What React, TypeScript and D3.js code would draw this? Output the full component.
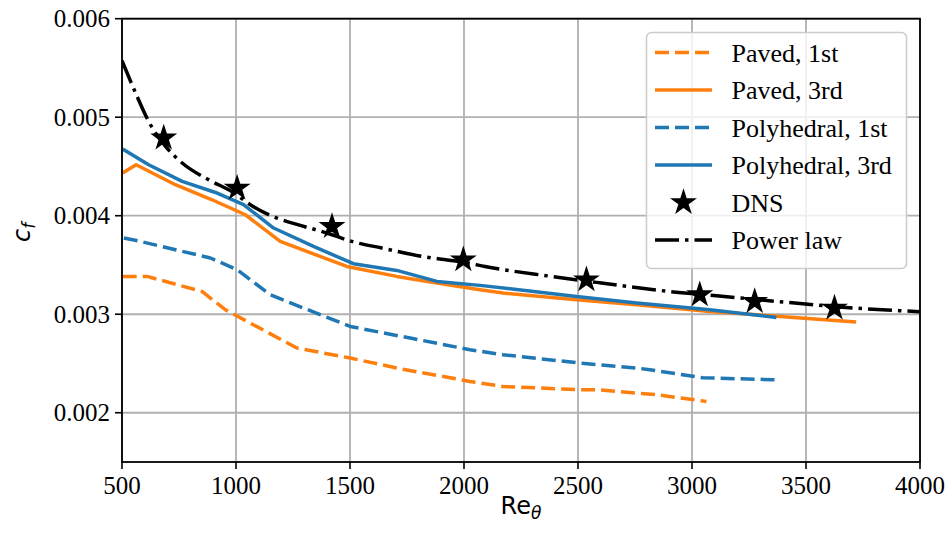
import React from 'react';
import * as d3 from 'd3';

// ---- data (Re_theta, c_f) ----
const pavedFirst: [number, number][] = [
  [503, 0.003384], [610, 0.003384], [851, 0.003231], [953, 0.003046], [1267, 0.002657],
  [1501, 0.002555], [1720, 0.002447], [2026, 0.002318], [2171, 0.002267], [2508, 0.002234],
  [2583, 0.002234], [2844, 0.002183], [3063, 0.002115],
];
const pavedThird: [number, number][] = [
  [503, 0.004434], [562, 0.004518], [734, 0.004315], [895, 0.004162], [1041, 0.00401],
  [1194, 0.003739], [1486, 0.003485], [1705, 0.003384], [1881, 0.003317], [2070, 0.003249],
  [2171, 0.003215], [2494, 0.003147], [2757, 0.003096], [3078, 0.003028], [3370, 0.00298],
  [3720, 0.002921],
];
const polyFirst: [number, number][] = [
  [508, 0.003774], [581, 0.003739], [888, 0.003571], [1005, 0.003452], [1150, 0.003198],
  [1296, 0.003063], [1501, 0.002876], [1764, 0.002758], [2026, 0.00264], [2171, 0.002589],
  [2508, 0.002505], [2757, 0.002454], [2815, 0.002437], [3047, 0.002355], [3362, 0.002335],
];
const polyThird: [number, number][] = [
  [503, 0.004677], [617, 0.004518], [764, 0.004348], [910, 0.004236], [1033, 0.004112],
  [1165, 0.003875], [1340, 0.003688], [1515, 0.003513], [1705, 0.003445], [1881, 0.003333],
  [2070, 0.003293], [2494, 0.003181], [2757, 0.003114], [3078, 0.003046], [3370, 0.002967],
];
const dnsPoints: [number, number][] = [
  [683, 0.004789], [1005, 0.004281], [1421, 0.003891], [1997, 0.003553],
  [2537, 0.00335], [3034, 0.003198], [3275, 0.00313], [3625, 0.003063],
];
const powerLaw: [number, number][] = [
  [500, 0.005574], [559, 0.005249], [617, 0.004957], [691, 0.004704], [764, 0.004535],
  [880, 0.004365], [983, 0.004244], [1063, 0.004112], [1421, 0.003807], [1508, 0.003739],
  [1640, 0.003672], [1815, 0.003587], [2019, 0.00352], [2092, 0.003485], [2384, 0.003384],
  [2603, 0.003317], [2902, 0.003231], [3108, 0.003188], [3400, 0.003124], [3618, 0.003079],
  [4000, 0.003025],
];

const xTicks = [500, 1000, 1500, 2000, 2500, 3000, 3500, 4000];
const yTicks = [0.002, 0.003, 0.004, 0.005, 0.006];
const legendLabels = ['Paved, 1st', 'Paved, 3rd', 'Polyhedral, 1st', 'Polyhedral, 3rd', 'DNS', 'Power law'];

const ORANGE = '#ff7f0e';
const BLUE = '#1f77b4';
const LW = 3.5;
const DASHED = '14 6';
const DASHDOT = '24 6 3.5 6';
const SERIF = '"Liberation Serif", "Times New Roman", serif';
const SANS = '"DejaVu Sans", sans-serif';

export default function App() {
  const W = 949, H = 540;
  const x0 = 122, x1 = 920, yTop = 18.7, yBot = 462;
  const x = d3.scaleLinear().domain([500, 4000]).range([x0, x1]);
  const y = d3.scaleLinear().domain([0.0015, 0.006]).range([yBot, yTop]);
  const line = d3.line<[number, number]>().x(d => x(d[0])).y(d => y(d[1]));
  const smooth = d3.line<[number, number]>().x(d => x(d[0])).y(d => y(d[1])).curve(d3.curveMonotoneX);
  const star = d3.symbol().type(d3.symbolStar).size(225)() as string;

  const series = [
    { data: pavedFirst, color: ORANGE, dash: DASHED },
    { data: pavedThird, color: ORANGE, dash: undefined },
    { data: polyFirst, color: BLUE, dash: DASHED },
    { data: polyThird, color: BLUE, dash: undefined },
  ];

  const legendStyles = [
    { color: ORANGE, dash: DASHED, kind: 'line' },
    { color: ORANGE, dash: undefined, kind: 'line' },
    { color: BLUE, dash: DASHED, kind: 'line' },
    { color: BLUE, dash: undefined, kind: 'line' },
    { color: '#000', dash: undefined, kind: 'star' },
    { color: '#000', dash: DASHDOT, kind: 'line' },
  ];

  const lgX = 646.5, lgY = 32.5, lgW = 260, lgH = 236;
  const rowY0 = 52.5, rowStep = 37.5;

  return (
    <svg width={W} height={H} style={{ position: 'absolute', left: 0, top: 0, background: '#fff' }}>
      <rect x={0} y={0} width={W} height={H} fill="#fff" />
      <defs>
        <clipPath id="plotclip">
          <rect x={x0} y={yTop} width={x1 - x0} height={yBot - yTop} />
        </clipPath>
      </defs>
      {/* grid */}
      {xTicks.map(t => (
        <line key={'gx' + t} x1={x(t)} x2={x(t)} y1={yTop} y2={yBot} stroke="#b0b0b0" strokeWidth={1.8} />
      ))}
      {yTicks.map(t => (
        <line key={'gy' + t} x1={x0} x2={x1} y1={y(t)} y2={y(t)} stroke="#b0b0b0" strokeWidth={1.8} />
      ))}
      {/* series */}
      <g clipPath="url(#plotclip)">
        {series.map((s, i) => (
          <path key={i} d={line(s.data) || ''} fill="none" stroke={s.color} strokeWidth={LW}
            strokeDasharray={s.dash} strokeLinejoin="round" />
        ))}
        <path d={smooth(powerLaw) || ''} fill="none" stroke="#000" strokeWidth={LW} strokeDasharray={DASHDOT} />
        {dnsPoints.map((p, i) => (
          <path key={'s' + i} d={star} transform={`translate(${x(p[0])},${y(p[1])})`} fill="#000" />
        ))}
      </g>
      {/* spines */}
      <rect x={x0} y={yTop} width={x1 - x0} height={yBot - yTop} fill="none" stroke="#000" strokeWidth={1.8} />
      {/* ticks */}
      {xTicks.map(t => (
        <g key={'xt' + t}>
          <line x1={x(t)} x2={x(t)} y1={yBot} y2={yBot + 7} stroke="#000" strokeWidth={1.6} />
          <text x={x(t)} y={yBot + 32} textAnchor="middle" fontFamily={SERIF} fontSize={25} fill="#000">{t}</text>
        </g>
      ))}
      {yTicks.map(t => (
        <g key={'yt' + t}>
          <line x1={x0 - 7} x2={x0} y1={y(t)} y2={y(t)} stroke="#000" strokeWidth={1.6} />
          <text x={x0 - 12} y={y(t) + 8.5} textAnchor="end" fontFamily={SERIF} fontSize={25} fill="#000">{t.toFixed(3)}</text>
        </g>
      ))}
      {/* axis labels */}
      <text x={(x0 + x1) / 2} y={514} textAnchor="middle" fontFamily={SANS} fontSize={24} fill="#000">
        Re<tspan fontStyle="italic" fontSize={17} dy={5}>θ</tspan>
      </text>
      <text transform={`translate(30,${(yTop + yBot) / 2 - 8}) rotate(-90)`} textAnchor="middle" fontFamily={SANS} fontSize={24} fill="#000" fontStyle="italic">
        c<tspan fontSize={17} dy={5}>f</tspan>
      </text>
      {/* legend */}
      <rect x={lgX} y={lgY} width={lgW} height={lgH} rx={5} ry={5} fill="#fff" fillOpacity={0.8} stroke="#cccccc" strokeWidth={1.5} />
      {legendLabels.map((lab, i) => {
        const ry = rowY0 + i * rowStep;
        const st = legendStyles[i];
        return (
          <g key={'lg' + i}>
            {st.kind === 'line' ? (
              <line x1={655} x2={712} y1={ry} y2={ry} stroke={st.color} strokeWidth={LW} strokeDasharray={st.dash} />
            ) : (
              <path d={star} transform={`translate(683.5,${ry})`} fill="#000" />
            )}
            <text x={731.5} y={ry + 9} fontFamily={SERIF} fontSize={26} fill="#000">{lab}</text>
          </g>
        );
      })}
    </svg>
  );
}
